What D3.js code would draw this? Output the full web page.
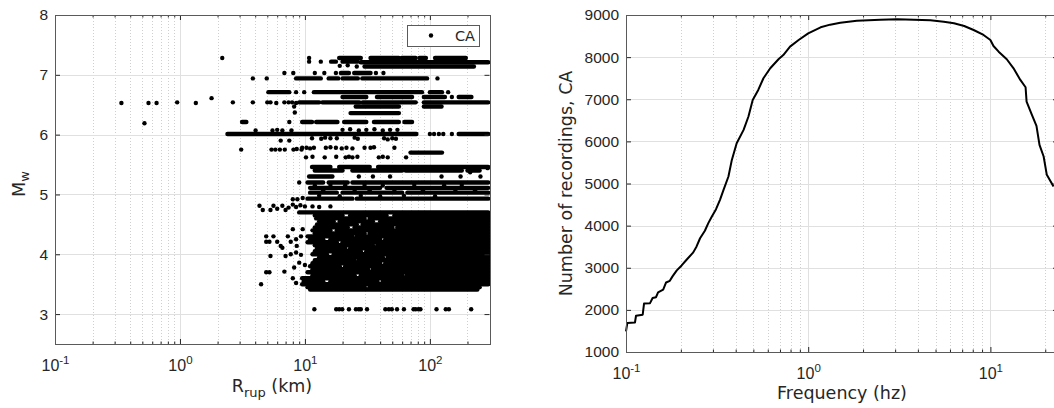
<!DOCTYPE html>
<html>
<head>
<meta charset="utf-8">
<script src="https://cdn.jsdelivr.net/npm/d3@7"></script>
<style>
  body { margin: 0; background: #fff; }
  svg { display: block; font-family: "DejaVu Sans", sans-serif; }
</style>
</head>
<body>
<svg id="chart" width="1054" height="408"></svg>
<script>
// ---- Left panel: recordings, Rrup (km) vs Mw ----
// horizontal runs where many recordings of one event overlap: [Mw, Rfrom, Rto]
const recordRuns = [
    [7.28, 18.8, 28], [7.28, 33.5, 56.5], [7.28, 59.5, 77], [7.28, 82.5, 93], [7.28, 110, 194],
    [7.22, 16.2, 17.7], [7.22, 20, 26.3], [7.21, 28, 293],
    [7.14, 30, 225],
    [7.03, 19.4, 22.5], [7.03, 24.8, 33.5],
    [6.94, 8.5, 13.4], [6.94, 15.5, 18.5], [6.94, 20, 26.5], [6.94, 28.8, 95],
    [6.71, 5.1, 7.5], [6.71, 11.8, 86.5], [6.71, 100, 125],
    [6.63, 20, 31], [6.63, 37.7, 72], [6.63, 89.5, 132], [6.63, 170, 215],
    [6.54, 9.0, 13], [6.54, 13.8, 27.3], [6.54, 29, 77], [6.54, 89.5, 293],
    [6.47, 25.5, 56.5], [6.47, 89.5, 124],
    [6.36, 23.2, 56.5],
    [6.21, 3.14, 3.4], [6.21, 9.5, 11.4], [6.21, 12.3, 18.2], [6.21, 20.6, 31], [6.21, 35.7, 56.5], [6.21, 62.5, 72],
    [6.01, 2.4, 78], [6.01, 170, 293],
    [5.70, 70, 125],
    [5.46, 11.4, 16], [5.46, 18.8, 33], [5.46, 38.5, 293],
    [5.40, 12, 20], [5.40, 24, 60], [5.40, 64, 180], [5.40, 200, 250],
    [5.30, 10.8, 16.6],
    [5.20, 10.5, 14], [5.20, 15.5, 22], [5.20, 24, 293],
    [5.11, 11, 40], [5.11, 45, 293],
    [5.03, 11, 18], [5.03, 20, 60], [5.03, 66, 293],
    [4.93, 10.5, 24], [4.93, 26, 293],
    [4.70, 9.0, 293],
    [4.65, 12.0, 20], [4.65, 23, 45], [4.65, 52, 293],
    [4.60, 12.3, 30], [4.60, 33, 293],
    [4.55, 13.0, 17], [4.55, 19, 35], [4.55, 40, 293],
    [4.50, 12.5, 26], [4.50, 29, 293],
    [4.45, 12.0, 22], [4.45, 25, 50], [4.45, 55, 293],
    [4.40, 11.5, 16], [4.40, 18, 293],
    [4.35, 12.0, 30], [4.35, 33, 293],
    [4.30, 10.5, 24], [4.30, 26, 293],
    [4.25, 11.0, 14], [4.25, 16, 40], [4.25, 44, 293],
    [4.20, 10.5, 18], [4.20, 20, 293],
    [4.15, 12.0, 35], [4.15, 38, 293],
    [4.10, 12.5, 21], [4.10, 23, 293],
    [4.05, 12.0, 28], [4.05, 31, 293],
    [4.00, 11.5, 15], [4.00, 17, 293],
    [3.95, 13.0, 42], [3.95, 46, 293],
    [3.90, 12.0, 25], [3.90, 27, 293],
    [3.85, 11.5, 40], [3.85, 44, 293],
    [3.80, 11.0, 19], [3.80, 21, 293],
    [3.75, 11.5, 32], [3.75, 35, 293],
    [3.70, 10.5, 293],
    [3.65, 11.5, 25], [3.65, 28, 60], [3.65, 65, 293],
    [3.60, 9.5, 293],
    [3.55, 9.8, 14], [3.55, 16, 38], [3.55, 42, 293],
    [3.50, 9.5, 293],
    [3.45, 10.5, 30], [3.45, 33, 250],
    [3.41, 11.0, 240]
];

// single recordings: [Rrup, Mw]
const recordPoints = [
    [0.34, 6.53], [0.52, 6.19], [0.56, 6.53], [0.65, 6.53], [0.95, 6.54], [1.34, 6.53],
    [1.79, 6.61], [2.18, 7.28], [2.65, 6.54], [3.09, 5.75],
    [3.83, 6.94], [4.95, 6.94], [3.83, 6.54], [5.0, 6.54], [5.3, 6.54], [5.9, 6.53],
    [6.85, 6.54], [7.4, 6.54], [7.9, 6.54], [8.5, 6.53],
    [10.8, 7.28], [10.8, 7.22], [13.4, 7.22], [19, 7.15], [22, 7.16], [26, 7.14],
    [6.85, 7.03], [8.07, 7.03], [12.0, 7.03], [14.3, 7.03], [17.7, 7.03], [37, 7.03], [42.5, 7.03],
    [115, 6.94], [8.5, 6.71], [9.87, 6.71], [140, 6.71], [150, 6.63],
    [8.2, 6.47], [8.3, 6.37], [7.5, 6.21],
    [4.03, 6.07], [5.5, 6.07], [6.0, 6.08], [6.6, 6.07], [7.8, 6.07], [20, 6.08], [23, 6.09],
    [27, 6.07], [31, 6.08], [36, 6.09], [42, 6.07], [48, 6.08], [55, 6.08],
    [100, 6.01], [108, 6.01], [118, 6.01], [128, 6.01], [150, 6.01],
    [6.4, 5.9], [7.5, 5.9], [11.4, 5.94], [13.5, 5.93], [14.5, 5.95], [16, 5.94], [18, 5.94],
    [25, 5.95], [26.5, 5.93], [43, 5.94], [46, 5.92], [50, 5.94], [53.5, 5.93],
    [5.4, 5.75], [5.8, 5.75], [6.3, 5.75], [6.9, 5.75], [8.1, 5.75], [8.6, 5.76], [9.4, 5.75],
    [9.5, 5.78], [10.3, 5.78], [11.0, 5.77], [11.8, 5.78], [14.7, 5.78], [16, 5.79], [17.7, 5.78],
    [19.7, 5.77], [21.5, 5.78], [24, 5.77], [30, 5.78], [33.5, 5.78], [35.7, 5.79], [52, 5.78],
    [10.2, 5.62], [11.5, 5.63], [14.4, 5.62], [17.8, 5.63], [21.2, 5.62], [22.5, 5.63], [24, 5.62],
    [26.3, 5.63], [39, 5.62], [42, 5.63], [46, 5.62], [64.5, 5.62],
    [210, 5.37], [290, 5.44],
    [27, 5.3], [35, 5.3], [48, 5.3], [124, 5.3], [176, 5.3], [254, 5.3],
    [12, 5.15], [16, 5.16], [21, 5.15], [30, 5.16], [42, 5.15], [75, 5.16], [130, 5.15], [180, 5.16],
    [14, 5.07], [25, 5.06], [33, 5.07], [52, 5.06], [88, 5.07], [160, 5.06], [230, 5.07],
    [13, 4.98], [19, 4.97], [28, 4.98], [40, 4.97], [62, 4.98], [110, 4.97],
    [9.0, 5.2], [8.0, 4.92], [8.7, 4.92], [9.6, 4.94],
    [4.33, 4.81], [4.6, 4.74], [5.3, 4.74], [5.6, 4.81], [6.0, 4.76], [6.6, 4.81], [7.0, 4.74],
    [7.4, 4.78], [8.0, 4.83], [8.5, 4.79], [9.2, 4.82], [10, 4.8], [11.5, 4.8], [13, 4.79], [16, 4.8],
    [8.0, 4.42], [9.6, 4.42], [4.9, 4.21], [5.2, 4.21], [5.6, 4.3], [6.0, 4.21], [6.6, 4.11],
    [7.3, 4.3], [7.7, 4.21], [8.5, 4.25], [9.3, 4.3], [4.9, 4.3], [6.4, 4.14], [8.6, 4.14],
    [5.3, 3.97], [7.0, 3.97], [7.7, 4.0], [8.5, 4.03], [9.3, 3.99],
    [8.2, 3.78], [9.0, 3.86], [10, 3.82], [4.9, 3.7], [5.2, 3.7], [6.85, 3.71],
    [8.0, 3.6], [8.5, 3.52], [4.46, 3.5],
    [11.9, 3.08], [17.8, 3.08], [18.8, 3.08], [19.9, 3.08], [22.5, 3.08], [25.6, 3.08], [27, 3.08],
    [28, 3.08], [31.4, 3.08], [44, 3.08], [47, 3.08], [49.6, 3.08], [54.6, 3.08], [62, 3.08],
    [74, 3.08], [77, 3.08], [81, 3.08], [84, 3.08], [113, 3.08], [134, 3.08], [142, 3.08], [214, 3.08]
];

const rrupTicks = [0.1, 1, 10, 100];
const mwTicks = [3, 4, 5, 6, 7, 8];

// ---- Right panel: usable recordings per frequency ----
const freqHz = [
    0.1, 0.1017, 0.112, 0.1135, 0.1235, 0.1256, 0.1355, 0.140, 0.146, 0.150,
    0.160, 0.166, 0.174, 0.180, 0.190, 0.202, 0.215, 0.234, 0.244, 0.255,
    0.271, 0.283, 0.296, 0.312, 0.328, 0.343, 0.365, 0.381, 0.405, 0.442,
    0.470, 0.496, 0.532, 0.568, 0.619, 0.687, 0.730, 0.795, 0.886, 1.0,
    1.17, 1.32, 1.50, 1.85, 2.49, 3.08, 3.80, 4.68, 5.55, 6.31,
    7.18, 8.09, 9.17, 10.0, 10.4, 11.1, 12.3, 13.4, 14.6, 15.6,
    15.8, 16.9, 17.9, 18.6, 19.6, 20.4, 22.2
];
const recordingCount = [
    1490, 1690, 1700, 1860, 1885, 2150, 2160, 2280, 2300, 2415,
    2480, 2650, 2690, 2795, 2937, 3055, 3190, 3365, 3505, 3700,
    3878, 4060, 4218, 4390, 4613, 4850, 5166, 5560, 5957, 6273,
    6590, 6984, 7221, 7498, 7735, 7950, 8050, 8250, 8407, 8565,
    8708, 8771, 8818, 8866, 8889, 8897, 8889, 8873, 8842, 8802,
    8739, 8644, 8526, 8407, 8265, 8130, 7950, 7735, 7458, 7285,
    6945, 6628, 6368, 5917, 5640, 5205, 4930
];
const freqTicks = [0.1, 1, 10];
const countTicks = [1000, 2000, 3000, 4000, 5000, 6000, 7000, 8000, 9000];

const TEXT = '#262626';
const DOT_R = 2.2;
const svg = d3.select('#chart');

// minor decade positions for a log axis
function logMinors(domain) {
    const out = [];
    for (let e = -2; e <= 3; e++) {
        for (let k = 2; k <= 9; k++) {
            const v = k * Math.pow(10, e);
            if (v > domain[0] * 1.0001 && v < domain[1] * 0.9999) out.push(v);
        }
    }
    return out;
}

function drawFrame(x, y, xTicks, yTicks) {
    const [x0, x1] = x.range();
    const [yb, yt] = y.range();
    const g = svg.append('g');
    const crisp = v => Math.round(v) + 0.5;

    // minor grid (dotted)
    g.append('g').selectAll('line').data(logMinors(x.domain())).join('line')
        .attr('x1', d => crisp(x(d))).attr('x2', d => crisp(x(d)))
        .attr('y1', yt).attr('y2', yb)
        .attr('stroke', '#cfcfcf').attr('stroke-width', 1).attr('stroke-dasharray', '1,2');

    // major grid
    g.append('g').selectAll('line').data(xTicks.filter(d => x(d) > x0 + 1 && x(d) < x1 - 1)).join('line')
        .attr('x1', d => crisp(x(d))).attr('x2', d => crisp(x(d)))
        .attr('y1', yt).attr('y2', yb)
        .attr('stroke', '#e0e0e0').attr('stroke-width', 1);
    g.append('g').selectAll('line').data(yTicks.filter(d => y(d) > yt + 1 && y(d) < yb - 1)).join('line')
        .attr('x1', x0).attr('x2', x1)
        .attr('y1', d => crisp(y(d))).attr('y2', d => crisp(y(d)))
        .attr('stroke', '#e0e0e0').attr('stroke-width', 1);
    return g;
}

function drawAxes(x, y, xTicks, yTicks) {
    const [x0, x1] = x.range();
    const [yb, yt] = y.range();
    const g = svg.append('g');

    // bottom axis with 10^n labels
    const bottom = g.append('g').attr('transform', `translate(0,${yb})`)
        .call(d3.axisBottom(x).tickValues(xTicks).tickSizeInner(-5).tickSizeOuter(0).tickFormat(() => '10'));
    bottom.selectAll('text')
        .attr('y', 27).attr('dy', null)
        .attr('font-size', 16).attr('fill', TEXT)
        .append('tspan')
        .attr('dy', -7).attr('font-size', 11.5)
        .text(d => String(Math.round(Math.log10(d))));
    g.append('g').attr('transform', `translate(0,${yb})`)
        .call(d3.axisBottom(x).tickValues(logMinors(x.domain())).tickSizeInner(-2.5).tickSizeOuter(0).tickFormat(''));
    g.append('g').attr('transform', `translate(0,${yt})`)
        .call(d3.axisTop(x).tickValues(xTicks).tickSizeInner(-5).tickSizeOuter(0).tickFormat(''));
    g.append('g').attr('transform', `translate(0,${yt})`)
        .call(d3.axisTop(x).tickValues(logMinors(x.domain())).tickSizeInner(-2.5).tickSizeOuter(0).tickFormat(''));

    // left axis
    const left = g.append('g').attr('transform', `translate(${x0},0)`)
        .call(d3.axisLeft(y).tickValues(yTicks).tickSizeInner(-5).tickSizeOuter(0).tickFormat(d3.format('d')));
    left.selectAll('text').attr('font-size', 15.5).attr('fill', TEXT).attr('x', -7);
    g.append('g').attr('transform', `translate(${x1},0)`)
        .call(d3.axisRight(y).tickValues(yTicks).tickSizeInner(-5).tickSizeOuter(0).tickFormat(''));

    g.selectAll('.domain').remove();
    g.selectAll('.tick line').attr('stroke', TEXT);

    // box
    g.append('rect')
        .attr('x', Math.round(x0) + 0.5).attr('y', Math.round(yt) + 0.5)
        .attr('width', Math.round(x1) - Math.round(x0)).attr('height', Math.round(yb) - Math.round(yt))
        .attr('fill', 'none').attr('stroke', '#5a5a5a').attr('stroke-width', 1);
    return g;
}

// ---------- left panel ----------
const xL = d3.scaleLog().domain([0.1, 300]).range([55, 489.5]);
const yL = d3.scaleLinear().domain([2.5, 8]).range([344, 15]);

drawFrame(xL, yL, rrupTicks, mwTicks);

const dots = svg.append('g');
dots.selectAll('line').data(recordRuns).join('line')
    .attr('x1', d => xL(d[1])).attr('x2', d => xL(d[2]))
    .attr('y1', d => yL(d[0])).attr('y2', d => yL(d[0]))
    .attr('stroke', '#000').attr('stroke-width', DOT_R * 2).attr('stroke-linecap', 'round');
dots.selectAll('circle').data(recordPoints).join('circle')
    .attr('cx', d => xL(d[0])).attr('cy', d => yL(d[1]))
    .attr('r', DOT_R).attr('fill', '#000');

drawAxes(xL, yL, rrupTicks, mwTicks);

// legend
const legend = svg.append('g');
legend.append('rect')
    .attr('x', 407.5).attr('y', 25.5).attr('width', 72).attr('height', 21)
    .attr('fill', '#fff').attr('stroke', '#5a5a5a');
legend.append('circle').attr('cx', 431).attr('cy', 35.5).attr('r', DOT_R).attr('fill', '#000');
legend.append('text').attr('x', 455).attr('y', 41).attr('font-size', 14.5).attr('fill', TEXT).text('CA');

// axis labels
const rLabel = svg.append('text')
    .attr('x', 272).attr('y', 392).attr('text-anchor', 'middle')
    .attr('font-size', 17.5).attr('fill', TEXT);
rLabel.append('tspan').text('R');
rLabel.append('tspan').attr('dy', 5).attr('font-size', 13).text('rup');
rLabel.append('tspan').attr('dy', -5).text(' (km)');

const mLabel = svg.append('text')
    .attr('transform', 'translate(25,184) rotate(-90)')
    .attr('text-anchor', 'middle').attr('font-size', 17.5).attr('fill', TEXT);
mLabel.append('tspan').text('M');
mLabel.append('tspan').attr('dy', 4).attr('font-size', 13).text('w');

// ---------- right panel ----------
const xR = d3.scaleLog().domain([0.1, 23.5]).range([626, 1058]);
const yR = d3.scaleLinear().domain([1000, 9000]).range([352, 15]);

drawFrame(xR, yR, freqTicks, countTicks);

const line = d3.line()
    .x((d, i) => xR(freqHz[i]))
    .y(d => yR(d));
svg.append('path')
    .datum(recordingCount)
    .attr('fill', 'none')
    .attr('stroke', '#000')
    .attr('stroke-width', 2)
    .attr('stroke-linejoin', 'round')
    .attr('d', line);

drawAxes(xR, yR, freqTicks, countTicks);

svg.append('text')
    .attr('x', 842).attr('y', 399).attr('text-anchor', 'middle')
    .attr('font-size', 17.5).attr('fill', TEXT)
    .text('Frequency (hz)');
svg.append('text')
    .attr('transform', 'translate(571.5,183.5) rotate(-90)')
    .attr('text-anchor', 'middle').attr('font-size', 17.5).attr('fill', TEXT)
    .text('Number of recordings, CA');
</script>
</body>
</html>
